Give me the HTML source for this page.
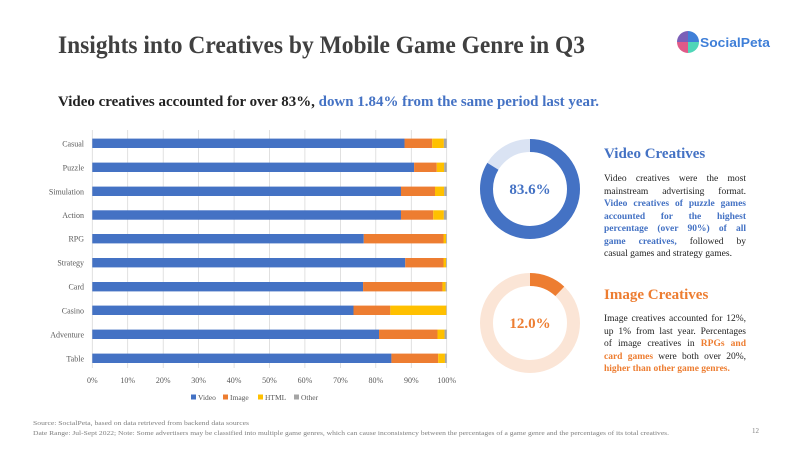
<!DOCTYPE html>
<html><head><meta charset="utf-8"><style>html,body{margin:0;padding:0;background:#fff}svg{display:block}
.p{position:absolute;left:604px;width:142px;font-family:"Liberation Serif",serif;font-size:9.5px;color:#222;line-height:12.5px}
.p div{text-align:justify;text-align-last:justify;white-space:nowrap}
.p div.l{text-align-last:left}
.b{font-weight:bold;color:#4472c4}.o{font-weight:bold;color:#ed7d31}
</style></head>
<body>
<div style="position:relative;width:800px;height:450px;overflow:hidden">
<svg width="800" height="450" viewBox="0 0 800 450" xmlns="http://www.w3.org/2000/svg" font-family="Liberation Serif, serif">
<rect width="800" height="450" fill="#fff"/>
<text x="58" y="53" font-size="25" font-weight="bold" fill="#404040" textLength="527" lengthAdjust="spacingAndGlyphs">Insights into Creatives by Mobile Game Genre in Q3</text>
<g transform="translate(677,31)">
<path d="M11,0 A11,11 0 0 0 0,11 L11,11Z" fill="#7b5fb8"/>
<path d="M11,0 A11,11 0 0 1 22,11 L11,11Z" fill="#3f7fd8"/>
<path d="M0,11 A11,11 0 0 0 11,22 L11,11Z" fill="#e05a88"/>
<path d="M22,11 A11,11 0 0 1 11,22 L11,11Z" fill="#4fd6b8"/>
</g>
<text x="700" y="47" font-size="13" font-weight="bold" fill="#3f7fd8" font-family="Liberation Sans, sans-serif" textLength="70" lengthAdjust="spacingAndGlyphs">SocialPeta</text>
<text x="58" y="106" font-size="15" font-weight="bold" fill="#222" textLength="541" lengthAdjust="spacingAndGlyphs">Video creatives accounted for over 83%, <tspan fill="#4472c4">down 1.84% from the same period last year.</tspan></text>

<g font-size="8" fill="#595959">
<g stroke="#d9d9d9" stroke-width="0.8">
<line x1="92.3" y1="130" x2="92.3" y2="368"/><line x1="127.7" y1="130" x2="127.7" y2="368"/><line x1="163.2" y1="130" x2="163.2" y2="368"/><line x1="198.6" y1="130" x2="198.6" y2="368"/><line x1="234.1" y1="130" x2="234.1" y2="368"/><line x1="269.5" y1="130" x2="269.5" y2="368"/><line x1="304.9" y1="130" x2="304.9" y2="368"/><line x1="340.4" y1="130" x2="340.4" y2="368"/><line x1="375.8" y1="130" x2="375.8" y2="368"/><line x1="411.3" y1="130" x2="411.3" y2="368"/><line x1="446.7" y1="130" x2="446.7" y2="368"/>
</g>
<g id="bars"></g>
<g text-anchor="middle">
<text x="92.3" y="383">0%</text><text x="127.7" y="383">10%</text><text x="163.2" y="383">20%</text><text x="198.6" y="383">30%</text><text x="234.1" y="383">40%</text><text x="269.5" y="383">50%</text><text x="304.9" y="383">60%</text><text x="340.4" y="383">70%</text><text x="375.8" y="383">80%</text><text x="411.3" y="383">90%</text><text x="446.7" y="383">100%</text>
</g>
<g font-size="7.5">
<rect x="191" y="394.5" width="5" height="5" fill="#4472c4"/><text x="198" y="400">Video</text>
<rect x="223" y="394.5" width="5" height="5" fill="#ed7d31"/><text x="230" y="400">Image</text>
<rect x="258" y="394.5" width="5" height="5" fill="#ffc000"/><text x="265" y="400">HTML</text>
<rect x="294" y="394.5" width="5" height="5" fill="#a5a5a5"/><text x="301" y="400">Other</text>
</g>
</g>

<circle cx="530" cy="189" r="43.5" fill="none" stroke="#dae3f3" stroke-width="13"/>
<circle cx="530" cy="189" r="43.5" fill="none" stroke="#4472c4" stroke-width="13" stroke-dasharray="228.5 500" transform="rotate(-90 530 189)"/>
<text x="530" y="194" text-anchor="middle" font-size="15" font-weight="bold" fill="#4472c4">83.6%</text>
<circle cx="530" cy="323" r="43.5" fill="none" stroke="#fbe5d6" stroke-width="13"/>
<circle cx="530" cy="323" r="43.5" fill="none" stroke="#ed7d31" stroke-width="13" stroke-dasharray="32.8 500" transform="rotate(-90 530 323)"/>
<text x="530" y="328" text-anchor="middle" font-size="15" font-weight="bold" fill="#ed7d31">12.0%</text>

<text x="604" y="158" font-size="15" font-weight="bold" fill="#4472c4">Video Creatives</text>
<text x="604" y="299" font-size="15" font-weight="bold" fill="#ed7d31">Image Creatives</text>

<g font-size="6.5" fill="#7f7f7f">
<text x="33" y="425" textLength="216" lengthAdjust="spacingAndGlyphs">Source: SocialPeta, based on data retrieved from backend data sources</text>
<text x="33" y="435" textLength="636" lengthAdjust="spacingAndGlyphs">Date Range: Jul-Sept 2022;  Note: Some advertisers may be classified into multiple game genres, which can cause inconsistency between the percentages of a game genre and the percentages of its total creatives.</text>
<text x="752" y="433" font-size="7">12</text>
</g>
</svg>
<div class="p" style="top:173px">
<div>Video creatives were the most</div>
<div>mainstream advertising format.</div>
<div class="b">Video creatives of puzzle games</div>
<div class="b">accounted for the highest</div>
<div class="b">percentage (over 90%) of all</div>
<div><span class="b">game creatives,</span> followed by</div>
<div class="l">casual games and strategy games.</div>
</div>
<div class="p" style="top:313px">
<div>Image creatives accounted for 12%,</div>
<div>up 1% from last year. Percentages</div>
<div>of image creatives in <span class="o">RPGs and</span></div>
<div><span class="o">card games</span> were both over 20%,</div>
<div class="l o">higher than other game genres.</div>
</div>
</div>
<script>
var d=[["Casual",143.3,88.1,95.9,99.2],["Puzzle",167.3,90.8,97.2,99.3],["Simulation",191.3,87.1,96.7,99.3],["Action",215,87.1,96.2,99.2],["RPG",238.7,76.6,99.1,99.8],["Strategy",262.7,88.3,99.1,99.8],["Card",286.7,76.4,98.8,99.7],["Casino",310.3,73.7,84.1,99.9],["Adventure",334.3,80.9,97.4,99.4],["Table",358.3,84.4,97.6,99.5]];
var g=document.getElementById("bars"),s="",x0=92.3,k=3.544;
d.forEach(function(r){var y=r[1]-4.7,c=["#4472c4","#ed7d31","#ffc000","#a5a5a5"],v=[0,r[2],r[3],r[4],100];
for(var i=0;i<4;i++){s+='<rect x="'+(x0+v[i]*k)+'" y="'+y+'" width="'+((v[i+1]-v[i])*k)+'" height="9.4" fill="'+c[i]+'"/>';}
s+='<text x="84" y="'+(r[1]+3)+'" text-anchor="end">'+r[0]+'</text>';});
g.innerHTML=s;
</script>
</body></html>
